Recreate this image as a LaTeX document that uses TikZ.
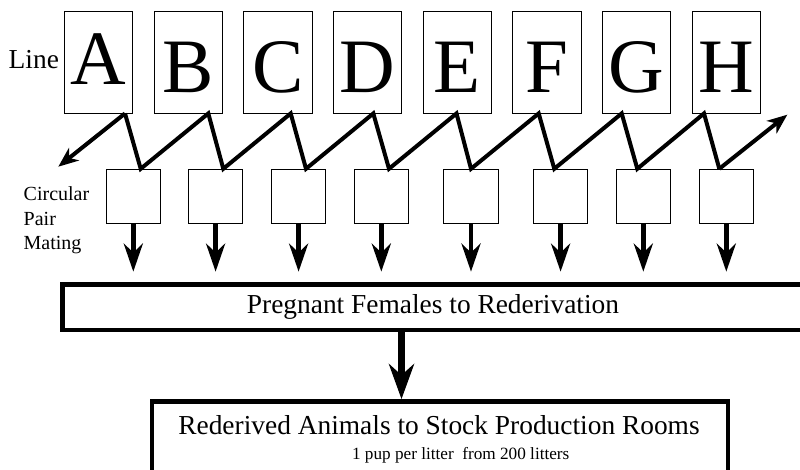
\documentclass[tikz,border=0pt]{standalone}
\usepackage{fontspec}
\setmainfont{Liberation Serif}
\usetikzlibrary{arrows.meta,calc}
\begin{document}
\begin{tikzpicture}[x=1pt,y=-1pt,
  linebox/.style={draw, line width=0.9pt, minimum width=68.4pt, inner sep=0pt,
    text height=81pt, text depth=21pt, font=\fontsize{77}{77}\selectfont},
  matebox/.style={draw, line width=0.9pt, minimum width=54.5pt, minimum height=54.5pt, inner sep=0pt},
  zig/.style={line width=4pt, line join=miter},
  zigtip/.style={-{Stealth[length=20pt,width=16pt,inset=6pt]}},
  downarrow/.style={line width=4.5pt, -{Stealth[length=28pt,width=19pt,inset=9pt]}},
  bigarrow/.style={line width=7pt, -{Stealth[length=35pt,width=25pt,inset=11pt]}},
  stagebox/.style={draw, line width=4.7pt, inner sep=0pt},
  bigtext/.style={font=\fontsize{27.4}{30}\selectfont, inner sep=0pt},
  smalltext/.style={font=\fontsize{20}{24}\selectfont, inner sep=0pt, anchor=base west},
]
\clip (0,0) rectangle (800,469);

% breeding lines
\node[linebox, text height=73pt, text depth=29pt] (A) at (98.5,62) {A};
\foreach \L [count=\i] in {B,C,D,E,F,G,H}
  \node[linebox] (\L) at (98.5+89.7*\i,62) {\L};
\node[bigtext, anchor=base west] (linelabel) at (8.5,68) {Line};

% circular pair mating cages
\foreach \x [count=\i] in {133.3,215.6,298.6,381.3,471,560.6,643.3,726.3}
  \node[matebox] (m\i) at (\x,196.5) {};
\node[smalltext] (lab1) at (23.5,200) {Circular};
\node[smalltext] (lab2) at (23.5,225) {Pair};
\node[smalltext] (lab3) at (23.5,249) {Mating};

% rotation between lines
\coordinate (outL) at (58.3,166.7);
\coordinate (outR) at (787.3,114.7);
\draw[zig, zigtip] ([xshift=26.5pt]A.south) -- (outL);
\draw[zig] ([xshift=26.5pt]A.south) -- ([xshift=7.4pt]m1.north)
  -- ([xshift=20.1pt]B.south) -- ([xshift=7.7pt]m2.north)
  -- ([xshift=12.8pt]C.south) -- ([xshift=7.4pt]m3.north)
  -- ([xshift=5.7pt]D.south) -- ([xshift=7.7pt]m4.north)
  -- ([xshift=-0.8pt]E.south) -- ([xshift=0pt]m5.north)
  -- ([xshift=-8.3pt]F.south) -- ([xshift=-6.3pt]m6.north)
  -- ([xshift=-15pt]G.south) -- ([xshift=-6pt]m7.north)
  -- ([xshift=-22.4pt]H.south) -- ([xshift=-7pt]m8.north);
\draw[zig, zigtip] ([xshift=-7pt]m8.north) -- (outR);

% rederivation stage
\node[stagebox, minimum width=745.5pt, minimum height=45.7pt] (preg) at (435.25,307.15) {};
\node[bigtext] (pregtext) at (433,307) {Pregnant Females to Rederivation};
\foreach \i in {1,...,8}
  \draw[downarrow, shorten >=10.3pt] (m\i.south) -- (m\i.south |- preg.north);

% stock production
\node[stagebox, minimum width=576pt, minimum height=138.5pt] (rooms) at (440,470.75) {};
\draw[bigarrow] ([xshift=-33.75pt]preg.south) -- ([xshift=-33.75pt]preg.south |- rooms.north);
\node[bigtext, anchor=base] (roomstext) at (439,434.3) {Rederived Animals to Stock Production Rooms};
\node[font=\fontsize{17.2}{20}\selectfont, inner sep=0pt, anchor=base] (pupstext) at (460.7,459) {1 pup per litter\ \ from 200 litters};
\end{tikzpicture}
\end{document}
